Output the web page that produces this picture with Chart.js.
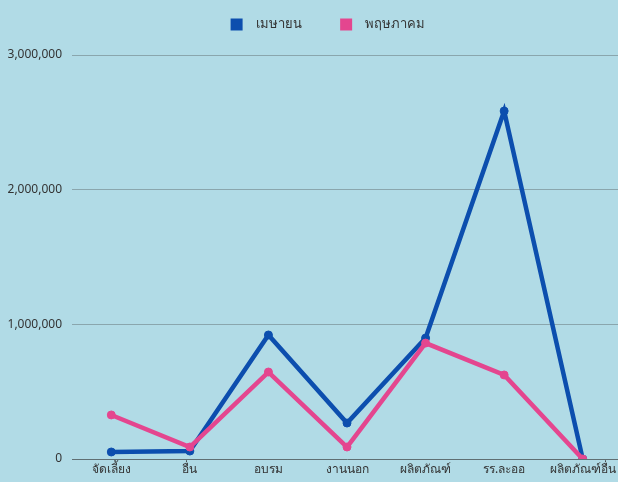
<!DOCTYPE html>
<html>
<head>
  <title>เมษายน / พฤษภาคม</title>
  <script src="https://cdn.jsdelivr.net/npm/chart.js"></script>
  <style>
    html, body { margin: 0; padding: 0; background: #b1dbe6; overflow: hidden; }
    #wrap { width: 618px; height: 482px; overflow: hidden; }
  </style>
</head>
<body>
  <div id="wrap"><canvas id="salesChart" width="622" height="482"></canvas></div>
  <script>
    const categories = ['จัดเลี้ยง', 'อื่น', 'อบรม', 'งานนอก', 'ผลิตภัณฑ์', 'รร.ละออ', 'ผลิตภัณฑ์อื่น'];
    const aprilValues = [52000, 59000, 921000, 267000, 898000, 2584000, 0];
    const mayValues = [327000, 89000, 646000, 89000, 861000, 624000, 0];
    const yTicks = [0, 1000000, 2000000, 3000000];

    const blue = '#0c4eae';
    const pink = '#e4468f';

    // extra room under the legend so the plot starts lower, and nudge legend right
    const legendGap = {
      id: 'legendGap',
      beforeLayout(c) {
        const lg = c.legend;
        if (lg && !lg._gapPatched) {
          const fit = lg.fit.bind(lg);
          lg.fit = function () { fit(); this.height += 14; };
          lg._gapPatched = true;
        }
      },
      afterLayout(c) {
        if (c.legend) c.legend.left += 34;
      }
    };

    const ctx = document.getElementById('salesChart').getContext('2d');
    const chart = new Chart(ctx, {
      type: 'line',
      data: {
        labels: categories,
        datasets: [{
          label: 'เมษายน',
          data: aprilValues,
          borderColor: blue,
          backgroundColor: blue,
          borderWidth: 4.5,
          pointRadius: 4,
          pointBorderWidth: 1,
          pointHoverRadius: 4,
          tension: 0,
          order: 1
        }, {
          label: 'พฤษภาคม',
          data: mayValues,
          borderColor: pink,
          backgroundColor: pink,
          borderWidth: 4.5,
          pointRadius: 4,
          pointBorderWidth: 1,
          pointHoverRadius: 4,
          tension: 0,
          order: 0
        }]
      },
      plugins: [legendGap],
      options: {
        responsive: false,
        animation: false,
        layout: { autoPadding: false, padding: 0 },
        plugins: {
          legend: {
            position: 'top',
            labels: {
              boxWidth: 12,
              boxHeight: 12,
              padding: 18,
              color: '#333',
              font: { family: 'Noto Sans, sans-serif', size: 13 },
              generateLabels: function (c) {
                return c.data.datasets.map(function (ds, i) {
                  return {
                    text: '  ' + ds.label + (i === 0 ? '      ' : ''),
                    fillStyle: ds.borderColor,
                    strokeStyle: ds.borderColor,
                    lineWidth: 0,
                    datasetIndex: i,
                    fontColor: '#333'
                  };
                });
              }
            }
          },
          tooltip: { enabled: false }
        },
        scales: {
          x: {
            offset: true,
            grid: { display: false, drawTicks: false },
            border: { display: true, color: '#5f6f73', width: 1 },
            ticks: {
              color: '#333',
              padding: 3,
              maxRotation: 0,
              autoSkip: false,
              font: { family: 'Noto Sans, sans-serif', size: 12 }
            },
            afterFit: function (scale) { scale.height = 23; }
          },
          y: {
            min: 0,
            max: 3000000,
            afterBuildTicks: function (scale) {
              scale.ticks = yTicks.map(v => ({ value: v }));
            },
            grid: {
              color: function (c) { return c.tick.value === 0 ? 'rgba(0,0,0,0)' : '#8aa6ad'; },
              drawTicks: false
            },
            border: { display: false },
            ticks: {
              color: '#333',
              padding: 10,
              font: { family: 'Noto Sans, sans-serif', size: 12 },
              callback: function (v) { return v.toLocaleString('en-US'); }
            },
            afterFit: function (scale) { scale.width = 72; }
          }
        }
      }
    });
  </script>
</body>
</html>
